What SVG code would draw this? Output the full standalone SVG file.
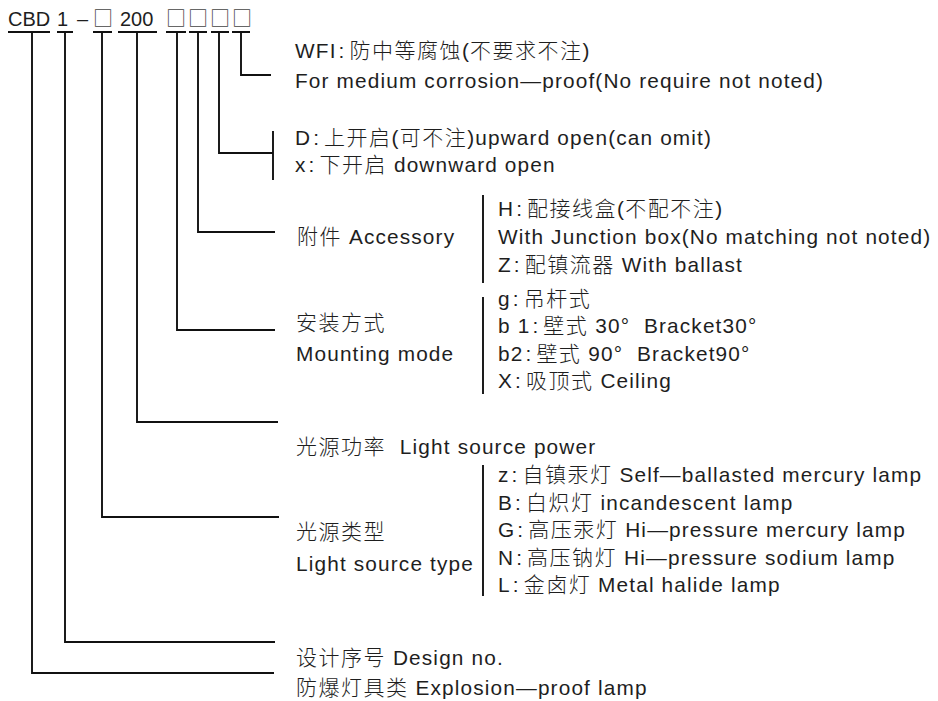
<svg xmlns="http://www.w3.org/2000/svg" width="938" height="701" viewBox="0 0 938 701">
<defs>
<style>
text{font-family:"Liberation Sans","Noto Sans CJK SC",sans-serif;font-size:20.8px;letter-spacing:1.15px;fill:#1e1e1e;white-space:pre}
.c{font-family:"Noto Sans CJK SC",sans-serif;font-size:21px;font-weight:300;letter-spacing:1.5px}
.hd{font-size:20px;letter-spacing:0}
.bx{font-family:"Noto Sans CJK SC",sans-serif;fill:#444}
.ln{fill:none;stroke:#111;stroke-width:1.9}
</style>
</defs>
<rect width="938" height="701" fill="#fff"/>
<g id="code">
<text class="hd" y="26"><tspan x="8">CBD</tspan><tspan x="57">1</tspan><tspan x="77">–</tspan><tspan x="120">200</tspan></text>
<text class="hd bx" y="26"><tspan x="93">□</tspan><tspan x="166">□</tspan><tspan x="188">□</tspan><tspan x="210">□</tspan><tspan x="232">□</tspan></text>
</g>
<g id="connectors" class="ln">
<path d="M8 32H50M57 32H73M93 32H112M118 32H157M166 32H186M189 32H207M211 32H229M232 32H250"/>
<polyline points="241,32 241,75 271,75"/>
<polyline points="219,32 219,153 273,153"/>
<line x1="273" y1="131" x2="273" y2="180"/>
<polyline points="198,32 198,232 275,232"/>
<polyline points="177,32 177,330 275,330"/>
<polyline points="137,32 137,422 278,422"/>
<polyline points="102,32 102,517 279,517"/>
<polyline points="65,32 65,642 275,642"/>
<polyline points="32,32 32,673 274,673"/>
<line x1="483" y1="195" x2="483" y2="283"/>
<line x1="483" y1="297" x2="483" y2="394"/>
<line x1="483" y1="465" x2="483" y2="596"/>
</g>
<g id="corrosion">
<text x="295" y="58">WFI<tspan dx="2">:</tspan><tspan class="c" dx="4">防中等腐蚀</tspan>(<tspan class="c">不要求不注</tspan>)</text>
<text x="295" y="88">For medium corrosion—proof(No require not noted)</text>
</g>
<g id="opening">
<text x="295" y="145">D<tspan dx="2">:</tspan><tspan class="c" dx="4">上开启</tspan>(<tspan class="c">可不注</tspan>)upward open(can omit)</text>
<text x="295" y="172">x<tspan dx="2">:</tspan><tspan class="c" dx="4">下开启</tspan> downward open</text>
</g>
<g id="accessory">
<text x="297" y="244"><tspan class="c">附件</tspan> Accessory</text>
<text x="498" y="216">H<tspan dx="2">:</tspan><tspan class="c" dx="4">配接线盒</tspan>(<tspan class="c">不配不注</tspan>)</text>
<text x="498" y="244">With Junction box(No matching not noted)</text>
<text x="498" y="271.5">Z<tspan dx="2">:</tspan><tspan class="c" dx="4">配镇流器</tspan> With ballast</text>
</g>
<g id="mounting">
<text x="296" y="330"><tspan class="c">安装方式</tspan></text>
<text x="296" y="361">Mounting mode</text>
<text x="498" y="305.5">g<tspan dx="2">:</tspan><tspan class="c" dx="4">吊杆式</tspan></text>
<text x="498" y="333">b 1<tspan dx="2">:</tspan><tspan class="c" dx="4">壁式</tspan> 30°  Bracket30°</text>
<text x="498" y="360.5">b2<tspan dx="2">:</tspan><tspan class="c" dx="4">壁式</tspan> 90°  Bracket90°</text>
<text x="498" y="388">X<tspan dx="2">:</tspan><tspan class="c" dx="4">吸顶式</tspan> Ceiling</text>
</g>
<g id="power">
<text x="296" y="454"><tspan class="c">光源功率</tspan>  Light source power</text>
</g>
<g id="lamptype">
<text x="296" y="539"><tspan class="c">光源类型</tspan></text>
<text x="296" y="571">Light source type</text>
<text x="498" y="482">z<tspan dx="2">:</tspan><tspan class="c" dx="4">自镇汞灯</tspan> Self—ballasted mercury lamp</text>
<text x="498" y="509.5">B<tspan dx="2">:</tspan><tspan class="c" dx="4">白炽灯</tspan> incandescent lamp</text>
<text x="498" y="537">G<tspan dx="2">:</tspan><tspan class="c" dx="4">高压汞灯</tspan> Hi—pressure mercury lamp</text>
<text x="498" y="564.5">N<tspan dx="2">:</tspan><tspan class="c" dx="4">高压钠灯</tspan> Hi—pressure sodium lamp</text>
<text x="498" y="592">L<tspan dx="2">:</tspan><tspan class="c" dx="4">金卤灯</tspan> Metal halide lamp</text>
</g>
<g id="design">
<text x="296" y="665"><tspan class="c">设计序号</tspan> Design no.</text>
</g>
<g id="category">
<text x="296" y="695"><tspan class="c">防爆灯具类</tspan> Explosion—proof lamp</text>
</g>
</svg>
